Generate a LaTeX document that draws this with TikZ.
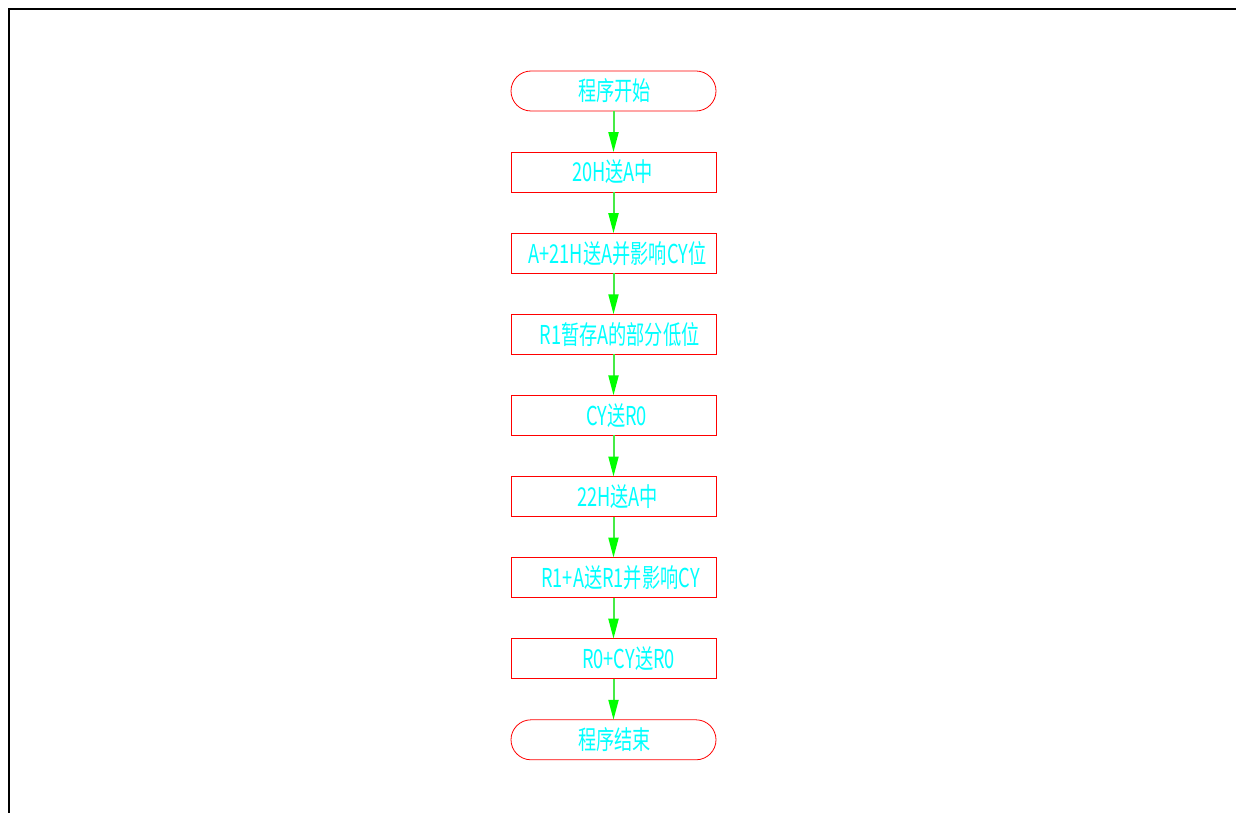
\documentclass[tikz,border=0pt]{standalone}
\usepackage{fontspec}
\newfontfamily\cadfont[FakeStretch=0.7]{Noto Sans CJK SC}
\usetikzlibrary{positioning, arrows.meta}
\definecolor{cadred}{RGB}{255,0,0}
\definecolor{cadcyan}{RGB}{0,255,255}
\definecolor{cadgreen}{RGB}{0,255,0}
\definecolor{cadline}{RGB}{70,235,70}

\begin{document}
\begin{tikzpicture}[
    x=1pt, y=-1pt,
    box/.style={draw=cadred, line width=0.8pt, rectangle, minimum width=205pt, minimum height=40pt,
        inner sep=0pt, outer sep=0pt, text=cadcyan, font=\cadfont\fontsize{26}{26}\selectfont},
    term/.style={box, rounded corners=20pt},
    arr/.style={-{Triangle[length=20pt, width=10pt, fill=cadgreen, color=cadgreen]}, draw=cadline,
        line width=2pt}
]
    \useasboundingbox (0,0) rectangle (1236,813);
    % drawing frame
    \draw[line width=2.4pt] (9,813) -- (9,9) -- (1236,9);

    % flow steps
    \node[term] (start) at (613.5,91) {\hspace*{2pt}程序开始};
    \node[box] (s1) [below=41.1pt of start] {\hspace*{-2pt}20H送A中};
    \node[box] (s2) [below=41.1pt of s1] {\hspace*{8pt}A+21H送A并影响CY位};
    \node[box] (s3) [below=41.1pt of s2] {\hspace*{12pt}R1暂存A的部分低位};
    \node[box] (s4) [below=41.1pt of s3] {\hspace*{6pt}CY送R0};
    \node[box] (s5) [below=41.1pt of s4] {\hspace*{8pt}22H送A中};
    \node[box] (s6) [below=41.1pt of s5] {\hspace*{14pt}R1+A送R1并影响CY};
    \node[box] (s7) [below=41.1pt of s6] {\hspace*{30pt}R0+CY送R0};
    \node[term] (stop) [below=41.1pt of s7] {\hspace*{2pt}程序结束};

    \draw[arr] (start) -- (s1);
    \draw[arr] (s1) -- (s2);
    \draw[arr] (s2) -- (s3);
    \draw[arr] (s3) -- (s4);
    \draw[arr] (s4) -- (s5);
    \draw[arr] (s5) -- (s6);
    \draw[arr] (s6) -- (s7);
    \draw[arr] (s7) -- (stop);
\end{tikzpicture}
\end{document}
